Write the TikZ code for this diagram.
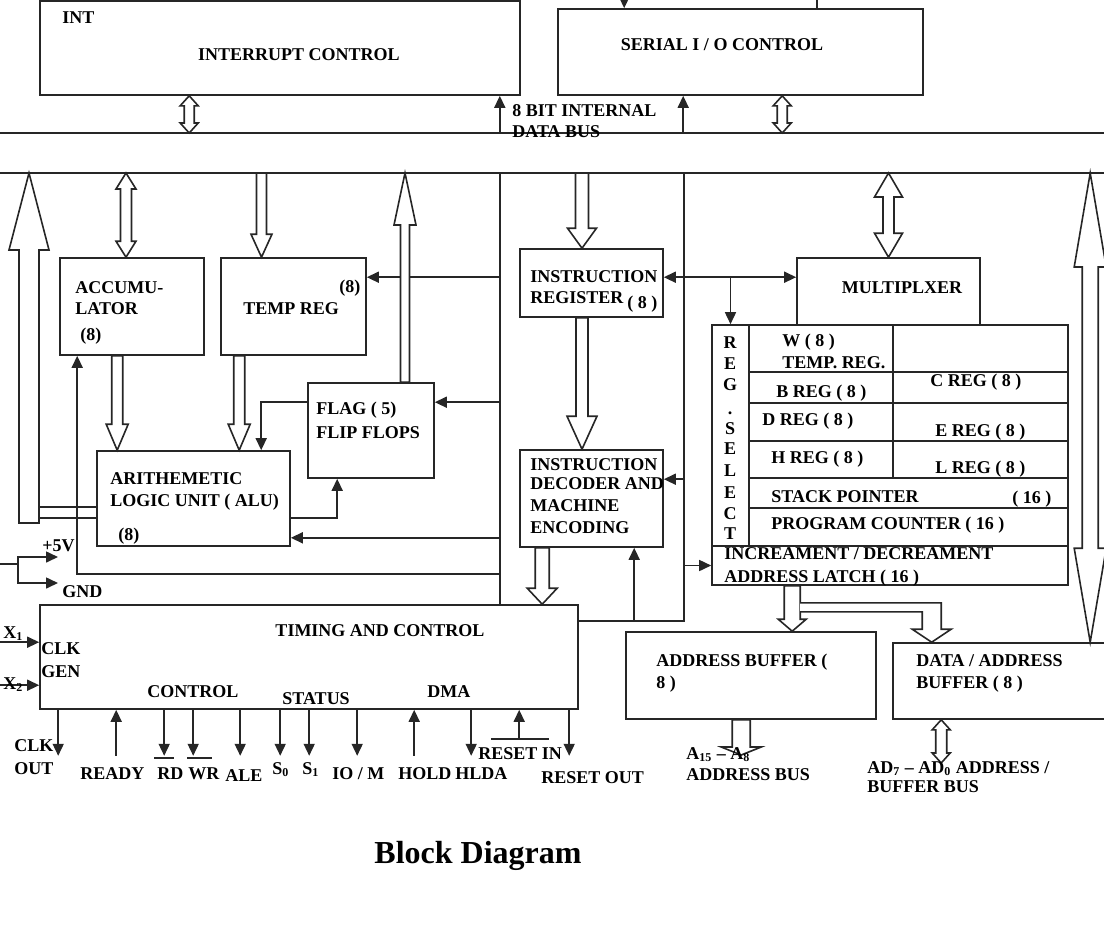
\documentclass[tikz,border=0pt]{standalone}
\usepackage{fontspec}
\setmainfont{Liberation Serif}
\usetikzlibrary{arrows.meta, positioning, calc, fit}

\newcommand{\lblfont}{\bfseries\fontsize{9}{10}\selectfont}

\tikzset{
  blk/.style={draw=black!85, line width=0.8pt, inner sep=0pt},
  lbl/.style={font=\lblfont, inner sep=0pt, anchor=base west},
  wire/.style={draw=black!85, line width=0.8pt},
  sig/.style={wire, -{Triangle[length=6pt,width=5.5pt]}},
  sigb/.style={wire, {Triangle[length=6pt,width=5.5pt]}-{Triangle[length=6pt,width=5.5pt]}},
  hbus/.style={draw=black!85, fill=white, line width=0.8pt, line join=miter},
}

% hollow bus arrows: #1 gives x, #2 tail (or top tip), #3 tip, #4 half shaft, #5 half head, #6 head length
\newcommand{\hdown}[6]{\path[hbus] let \p1=(#1), \p2=(#2), \p3=(#3) in
  (\x1-#4,\y2) -- (\x1-#4,\y3+#6) -- (\x1-#5,\y3+#6) -- (\x1,\y3)
  -- (\x1+#5,\y3+#6) -- (\x1+#4,\y3+#6) -- (\x1+#4,\y2) -- cycle;}
\newcommand{\hup}[6]{\path[hbus] let \p1=(#1), \p2=(#2), \p3=(#3) in
  (\x1-#4,\y2) -- (\x1-#4,\y3-#6) -- (\x1-#5,\y3-#6) -- (\x1,\y3)
  -- (\x1+#5,\y3-#6) -- (\x1+#4,\y3-#6) -- (\x1+#4,\y2) -- cycle;}
\newcommand{\hboth}[6]{\path[hbus] let \p1=(#1), \p2=(#2), \p3=(#3) in
  (\x1,\y2) -- (\x1+#5,\y2-#6) -- (\x1+#4,\y2-#6) -- (\x1+#4,\y3+#6)
  -- (\x1+#5,\y3+#6) -- (\x1,\y3) -- (\x1-#5,\y3+#6) -- (\x1-#4,\y3+#6)
  -- (\x1-#4,\y2-#6) -- (\x1-#5,\y2-#6) -- cycle;}

\begin{document}
\begin{tikzpicture}[x=0.5pt, y=-0.5pt]
\useasboundingbox (0,0) rectangle (1104,927);

% internal data bus
\coordinate (busT) at (0,133);
\coordinate (busB) at (0,173);
\draw[wire] (busT) -- ++(1104,0);
\draw[wire] (busB) -- ++(1104,0);

% blocks
\node[blk, fit={(40,1) (520,95)}] (intr) {};
\node[blk, fit={(558,9) (923,95)}] (sio) {};
\node[blk, fit={(60,258) (204,355)}] (acc) {};
\node[blk, fit={(221,258) (366,355)}] (tmp) {};
\node[blk, fit={(308,383) (434,478)}] (flag) {};
\node[blk, fit={(97,451) (290,546)}] (alu) {};
\node[blk, fit={(520,249) (663,317)}] (ir) {};
\node[blk, fit={(520,450) (663,547)}] (dec) {};
\node[blk, fit={(797,258) (980,325)}] (mux) {};
\node[blk, fit={(712,325) (749,546)}] (sel) {};
\node[blk, fit={(749,325) (893,372)}] (wcell) {};
\node[blk, fit={(893,325) (1068,372)}] (wside) {};
\node[blk, fit={(749,372) (893,403)}] (bcell) {};
\node[blk, fit={(893,372) (1068,403)}] (ccell) {};
\node[blk, fit={(749,403) (893,441)}] (dcell) {};
\node[blk, fit={(893,403) (1068,441)}] (ecell) {};
\node[blk, fit={(749,441) (893,478)}] (hcell) {};
\node[blk, fit={(893,441) (1068,478)}] (lcell) {};
\node[blk, fit={(749,478) (1068,508)}] (spcell) {};
\node[blk, fit={(749,508) (1068,546)}] (pccell) {};
\node[blk, fit={(712,546) (1068,585)}] (latch) {};
\node[blk, fit={(40,605) (578,709)}] (tc) {};
\node[blk, fit={(626,632) (876,719)}] (abuf) {};
\node[blk, fit={(893,643) (1112,719)}] (dbuf) {};

% signals above the bus
\draw[sig] ($(intr.south east)+(-21,38)$) -- ($(intr.south east)+(-21,0)$);
\draw[sig] ($(sio.south west)+(126,38)$) -- ($(sio.south west)+(126,0)$);
\draw[sig] ($(sio.north west)+(67,-14)$) -- ($(sio.north west)+(67,0)$);
\draw[wire] ($(sio.north west)+(260,-14)$) -- ($(sio.north west)+(260,0)$);
\hboth{$(intr.south west)+(150,0)$}{intr.south}{busT}{2.5pt}{4.5pt}{5pt}
\hboth{$(sio.south west)+(225,0)$}{sio.south}{busT}{2.5pt}{4.5pt}{5pt}

% control lines on the left
\coordinate (vL) at (500,173);
\draw[wire] (vL) -- (vL |- tc.north);
\coordinate (tmpin) at ($(tmp.north east)+(0,20)$);
\coordinate (flagin) at ($(flag.north east)+(0,20)$);
\coordinate (aluin) at ($(alu.south east)+(0,-9)$);
\coordinate (accin) at ($(acc.south west)+(18,0)$);
\coordinate (accret) at ($(tc.north west)+(38,-30)$);
\draw[sig] (vL |- tmpin) -- (tmpin);
\draw[sig] (vL |- flagin) -- (flagin);
\draw[sig] (vL |- aluin) -- (aluin);
\draw[sig] (vL |- accret) -- (accret) -- (accin);
\coordinate (flagout) at ($(flag.north west)+(0,20)$);
\coordinate (aluout) at ($(alu.south east)+(0,-29)$);
\draw[sig] (flagout) -| ($(alu.north west)+(165,0)$);
\draw[sig] (aluout) -| ($(flag.south west)+(30,0)$);

% bus arrows, left half
\coordinate (alubus) at (29,523);
\hup{alubus}{alubus}{busB}{5pt}{10pt}{38.5pt}
\draw[wire] ($(alubus)+(10,-16)$) -- ($(alubus -| alu.west)+(0,-16)$);
\draw[wire] ($(alubus)+(10,-5)$) -- ($(alubus -| alu.west)+(0,-5)$);
\hboth{$(acc.north)+(-6,0)$}{busB}{acc.north}{2.75pt}{5pt}{8pt}
\hdown{$(tmp.north)+(-32,0)$}{busB}{tmp.north}{2.5pt}{5.25pt}{11.5pt}
\hup{$(flag.north)+(34,0)$}{flag.north}{busB}{2.25pt}{5.5pt}{26pt}
\hdown{$(acc.south west)+(58,0)$}{acc.south}{alu.north}{2.75pt}{5.5pt}{13pt}
\hdown{$(tmp.south west)+(19,0)$}{tmp.south}{alu.north}{2.75pt}{5.5pt}{13pt}

% instruction path
\hdown{$(ir.north)+(-9.5,0)$}{busB}{ir.north}{3.25pt}{7.25pt}{10pt}
\hdown{$(ir.south)+(-9.5,0)$}{ir.south}{dec.north}{3pt}{7.5pt}{16.5pt}
\hdown{$(dec.south west)+(23,0)$}{dec.south}{tc.north}{3.5pt}{7.5pt}{8pt}

% control lines on the right
\coordinate (vR) at (684,173);
\coordinate (tcret) at ($(tc.north east)+(0,17)$);
\coordinate (decin) at ($(dec.north east)+(0,30)$);
\coordinate (decret) at ($(dec.south west)+(115,0)$);
\coordinate (irout) at ($(ir.north east)+(0,29)$);
\draw[wire] (vR) |- (tcret);
\draw[sig] (vR |- decin) -- (decin);
\draw[sig] (vR |- latch.west) -- (latch.west);
\draw[sig] (decret |- tcret) -- (decret);
\draw[sigb] (irout) -- (irout -| mux.west);
\draw[sig] (irout -| sel.north) -- (sel.north);

% register side buses
\hboth{mux.north}{busB}{mux.north}{2.75pt}{7pt}{12pt}
\hboth{$(dbuf.north west)+(198,0)$}{busB}{dbuf.north}{4pt}{8pt}{47pt}
\coordinate (latchout) at ($(latch.south west)+(81,0)$);
\hdown{latchout}{latch.south}{abuf.north}{4pt}{7pt}{6pt}
\path[hbus] ($(latchout)+(8,17)$) -| ($(dbuf.north west)+(49,-13)$) -- ++(10,0)
  -- ($(dbuf.north west)+(39.5,0)$) -- ++(-19.5,-13) -- ++(10,0) |- ($(latchout)+(8,26)$);
\coordinate (abusend) at (742,755);
\coordinate (adbusend) at (942,763);
\hdown{$(abuf.south west)+(116,0)$}{abuf.south}{abusend}{4.5pt}{10pt}{4pt}
\hboth{$(dbuf.south west)+(49,0)$}{dbuf.south}{adbusend}{2.75pt}{4.5pt}{5pt}

% power and clock inputs
\coordinate (pwr) at (0,564);
\coordinate (pwrj) at (18,564);
\draw[wire] (pwr) -- (pwrj);
\draw[sig] (pwrj) |- ($(pwrj)+(40,-7)$);
\draw[sig] (pwrj) |- ($(pwrj)+(40,19)$);
\coordinate (x1in) at ($(tc.north west)+(0,38)$);
\coordinate (x2in) at ($(tc.north west)+(0,81)$);
\draw[sig] (x1in -| pwr) -- (x1in);
\draw[sig] (x2in -| pwr) -- (x2in);

% timing and control pins
\foreach \dx in {19,125,154,201,241,270,318,432,530}
  \draw[sig] ($(tc.south west)+(\dx,0)$) -- ++(0,46);
\foreach \dx in {77,375}
  \draw[sig] ($(tc.south west)+(\dx,46)$) -- ++(0,-46);
\draw[wire] ($(tc.south west)+(115,48)$) -- ++(20,0);
\draw[wire] ($(tc.south west)+(148,48)$) -- ++(25,0);
\draw[wire] ($(tc.south west)+(452,29)$) -- ++(58,0);
\draw[sig] ($(tc.south west)+(480,29)$) -- ++(0,-29);

% labels
\node[lbl] (tint) at (62,23) {INT};
\node[lbl, anchor=base] (tintr) at (299,60) {INTERRUPT CONTROL};
\node[lbl, anchor=base] (tsio) at (722,50) {SERIAL I / O CONTROL};
\node[lbl] (tbus1) at (512,116) {8 BIT INTERNAL};
\node[lbl] (tbus2) at (512,137) {DATA BUS};
\node[lbl] (tacc1) at (75,293) {ACCUMU-};
\node[lbl] (tacc2) at (75,314) {LATOR};
\node[lbl] (tacc3) at (80,340) {(8)};
\node[lbl] (ttmp1) at (339,292) {(8)};
\node[lbl] (ttmp2) at (243,314) {TEMP REG};
\node[lbl] (tflag1) at (316,414) {FLAG ( 5)};
\node[lbl] (tflag2) at (316,438) {FLIP FLOPS};
\node[lbl] (talu1) at (110,484) {ARITHEMETIC};
\node[lbl] (talu2) at (110,506) {LOGIC UNIT ( ALU)};
\node[lbl] (talu3) at (118,540) {(8)};
\node[lbl] (tir1) at (530,282) {INSTRUCTION};
\node[lbl] (tir2) at (530,303) {REGISTER};
\node[lbl] (tir3) at (627,308) {( 8 )};
\node[lbl] (tdec1) at (530,470) {INSTRUCTION};
\node[lbl] (tdec2) at (530,489) {DECODER AND};
\node[lbl] (tdec3) at (530,511) {MACHINE};
\node[lbl] (tdec4) at (530,533) {ENCODING};
\node[lbl, anchor=base] (tmux) at (902,293) {MULTIPLXER};
\foreach \ch/\yy [count=\i] in {R/348,E/369,G/390,./414,S/434,E/454,L/476,E/498,C/519,T/539}
  \node[lbl, anchor=base] (tsel\i) at (730,\yy) {\ch};
\node[lbl] (tw1) at (782,346) {W ( 8 )};
\node[lbl] (tw2) at (782,368) {TEMP. REG.};
\node[lbl] (tb) at (776,397) {B REG ( 8 )};
\node[lbl] (tc8) at (930,386) {C REG ( 8 )};
\node[lbl] (td) at (762,425) {D REG ( 8 )};
\node[lbl] (te) at (935,436) {E REG ( 8 )};
\node[lbl] (th) at (771,463) {H REG ( 8 )};
\node[lbl] (tl) at (935,473) {L REG ( 8 )};
\node[lbl] (tsp1) at (771,502) {STACK POINTER};
\node[lbl] (tsp2) at (1012,503) {( 16 )};
\node[lbl] (tpc) at (771,529) {PROGRAM COUNTER ( 16 )};
\node[lbl] (tlat1) at (724,559) {INCREAMENT / DECREAMENT};
\node[lbl] (tlat2) at (724,582) {ADDRESS LATCH ( 16 )};
\node[lbl] (tab1) at (656,666) {ADDRESS BUFFER (};
\node[lbl] (tab2) at (656,688) {8 )};
\node[lbl] (tdb1) at (916,666) {DATA / ADDRESS};
\node[lbl] (tdb2) at (916,688) {BUFFER ( 8 )};
\node[lbl] (tabus1) at (686,759) {A\textsubscript{15} – A\textsubscript{8}};
\node[lbl] (tabus2) at (686,780) {ADDRESS BUS};
\node[lbl] (tadbus1) at (867,773) {AD\textsubscript{7} – AD\textsubscript{0} ADDRESS /};
\node[lbl] (tadbus2) at (867,792) {BUFFER BUS};
\node[lbl, anchor=base] (ttc) at (380,636) {TIMING AND CONTROL};
\node[lbl] (tclk1) at (41,654) {CLK};
\node[lbl] (tclk2) at (41,677) {GEN};
\node[lbl] (tctl) at (147,697) {CONTROL};
\node[lbl] (tsta) at (282,704) {STATUS};
\node[lbl] (tdma) at (427,697) {DMA};
\node[lbl] (tx1) at (3,638) {X\textsubscript{1}};
\node[lbl] (tx2) at (3,689) {X\textsubscript{2}};
\node[lbl] (tp5v) at (42,551) {+5V};
\node[lbl] (tgnd) at (62,597) {GND};
\node[lbl] (tco1) at (14,751) {CLK};
\node[lbl] (tco2) at (14,774) {OUT};
\node[lbl] (trdy) at (80,779) {READY};
\node[lbl] (trd) at (157,779) {RD};
\node[lbl] (twr) at (188,779) {WR};
\node[lbl] (tale) at (225,781) {ALE};
\node[lbl] (ts0) at (272,774) {S\textsubscript{0}};
\node[lbl] (ts1) at (302,774) {S\textsubscript{1}};
\node[lbl] (tiom) at (332,779) {IO / M};
\node[lbl] (thold) at (398,779) {HOLD};
\node[lbl] (thlda) at (455,779) {HLDA};
\node[lbl] (trin) at (478,759) {RESET IN};
\node[lbl] (trout) at (541,783) {RESET OUT};
\node[lbl, anchor=base, font=\bfseries\fontsize{16}{18}\selectfont] (title) at (478,863) {Block Diagram};
\end{tikzpicture}
\end{document}
